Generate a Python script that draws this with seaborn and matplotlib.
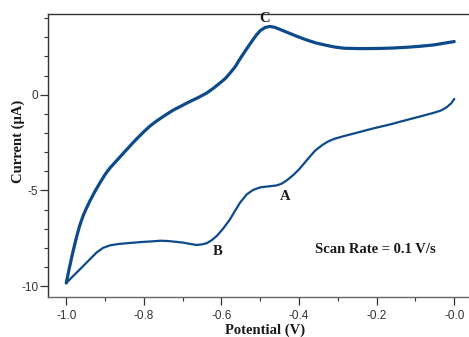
import matplotlib
matplotlib.use("Agg")
import matplotlib.pyplot as plt
import numpy as np
import pandas as pd
import seaborn as sns
from matplotlib.ticker import MultipleLocator, FixedLocator

# Forward scan, lower branch
fwd_x = [-1.0, -0.983, -0.965, -0.945, -0.922, -0.905, -0.887, -0.865, -0.844, -0.802,
         -0.784, -0.758, -0.741, -0.72, -0.698, -0.68, -0.664, -0.65, -0.638, -0.625,
         -0.612, -0.595, -0.578, -0.565, -0.552, -0.535, -0.518, -0.5, -0.475, -0.458,
         -0.445, -0.432, -0.415, -0.4, -0.38, -0.36, -0.35, -0.338, -0.325, -0.31,
         -0.286, -0.25, -0.209, -0.165, -0.123, -0.085, -0.054, -0.035, -0.02, -0.008, 0.0]
fwd_y = [-9.84, -9.49, -9.13, -8.72, -8.25, -8.0, -7.87, -7.8, -7.76, -7.69,
         -7.67, -7.63, -7.64, -7.68, -7.73, -7.8, -7.85, -7.82, -7.76, -7.6,
         -7.38, -6.98, -6.51, -6.07, -5.64, -5.21, -4.97, -4.84, -4.78, -4.74,
         -4.65, -4.48, -4.2, -3.9, -3.42, -2.95, -2.78, -2.6, -2.44, -2.31,
         -2.17, -1.98, -1.76, -1.55, -1.32, -1.12, -0.95, -0.83, -0.66, -0.45, -0.22]

# Reverse scan, upper branch
rev_x = [0.0, -0.054, -0.09, -0.123, -0.16, -0.193, -0.24, -0.284, -0.31, -0.329,
         -0.355, -0.38, -0.405, -0.423, -0.445, -0.462, -0.475, -0.487, -0.5, -0.51,
         -0.518, -0.535, -0.552, -0.565, -0.578, -0.59, -0.604, -0.62, -0.638, -0.66,
         -0.681, -0.7, -0.724, -0.745, -0.767, -0.785, -0.802, -0.822, -0.844, -0.865,
         -0.887, -0.9, -0.913, -0.926, -0.939, -0.948, -0.956, -0.965, -0.973, -0.98,
         -0.986, -0.993, -1.0]
rev_y = [2.78, 2.6, 2.53, 2.48, 2.44, 2.42, 2.41, 2.43, 2.5, 2.58,
         2.7, 2.86, 3.05, 3.2, 3.38, 3.52, 3.57, 3.52, 3.35, 3.12,
         2.9, 2.4, 1.88, 1.45, 1.13, 0.85, 0.61, 0.35, 0.09, -0.15,
         -0.35, -0.55, -0.8, -1.07, -1.37, -1.65, -1.97, -2.38, -2.86, -3.33,
         -3.82, -4.17, -4.6, -5.05, -5.55, -5.93, -6.3, -6.82, -7.4, -7.98,
         -8.5, -9.15, -9.84]

x_ticks = [-1.0, -0.8, -0.6, -0.4, -0.2, 0.0]
x_tick_labels = ["-1.0", "-0.8", "-0.6", "-0.4", "-0.2", "-0.0"]
y_ticks = [-10, -5, 0]
y_tick_labels = ["-10", "-5", "0"]

peak_labels = ["C", "A", "B"]
peak_x = [-0.488, -0.435, -0.609]
peak_y = [3.96, -5.31, -8.18]
note_text = "Scan Rate = 0.1 V/s"

sns.set_theme(style="white")
plt.rcParams["axes.unicode_minus"] = False
plt.rcParams["font.family"] = ["Liberation Sans", "DejaVu Sans"]

fwd = pd.DataFrame({"E": fwd_x, "I": fwd_y})
rev = pd.DataFrame({"E": rev_x, "I": rev_y})

fig = plt.figure(figsize=(4.69, 3.37), dpi=100)
ax = fig.add_axes([48 / 469, 1 - 297 / 337, 421 / 469, 283 / 337])

line_color = "#0d4a8a"
sns.lineplot(data=fwd, x="E", y="I", sort=False, ax=ax, color=line_color, linewidth=1.6)
sns.lineplot(data=rev, x="E", y="I", sort=False, ax=ax, color=line_color, linewidth=2.3)

ax.set_xlim(-1.047, 0.038)
ax.set_ylim(-10.57, 4.22)

ax.xaxis.set_major_locator(FixedLocator(x_ticks))
ax.set_xticklabels(x_tick_labels)
ax.xaxis.set_minor_locator(MultipleLocator(0.1))
ax.yaxis.set_major_locator(FixedLocator(y_ticks))
ax.set_yticklabels(y_tick_labels)
ax.yaxis.set_minor_locator(MultipleLocator(1))

ax.tick_params(axis="both", which="major", direction="out", length=6, width=0.9,
               color="#333333", labelsize=8.5, labelcolor="#333333")
ax.tick_params(axis="both", which="minor", direction="out", length=3, width=0.8,
               color="#333333")
ax.tick_params(axis="x", which="major", pad=3.5, bottom=True)
ax.tick_params(axis="x", which="minor", bottom=True)
ax.tick_params(axis="y", which="major", pad=1, left=True)
ax.tick_params(axis="y", which="minor", left=True)

ax.spines["right"].set_visible(False)
for s in ["top", "bottom", "left"]:
    ax.spines[s].set_color("#333333")
    ax.spines[s].set_linewidth(1.0)
ax.spines["bottom"].set_color("#666666")

lab_font = dict(family=["Liberation Serif", "DejaVu Serif"], fontweight="bold",
                fontsize=10.5, color="#1a1a1a")
ax.set_xlabel("Potential (V)", **lab_font)
ax.set_ylabel("Current (\u03bcA)", **lab_font)
ax.xaxis.set_label_coords((265 - 48) / 421, -0.092)
ax.yaxis.set_label_coords((25 - 48) / 421, 0.55)

for lab, px, py in zip(peak_labels, peak_x, peak_y):
    ax.text(px, py, lab, ha="center", va="center", **lab_font)
ax.text(-0.359, -8.07, note_text, ha="left", va="center", **lab_font)

ax.grid(False)
fig.savefig("out.png", dpi=100)
